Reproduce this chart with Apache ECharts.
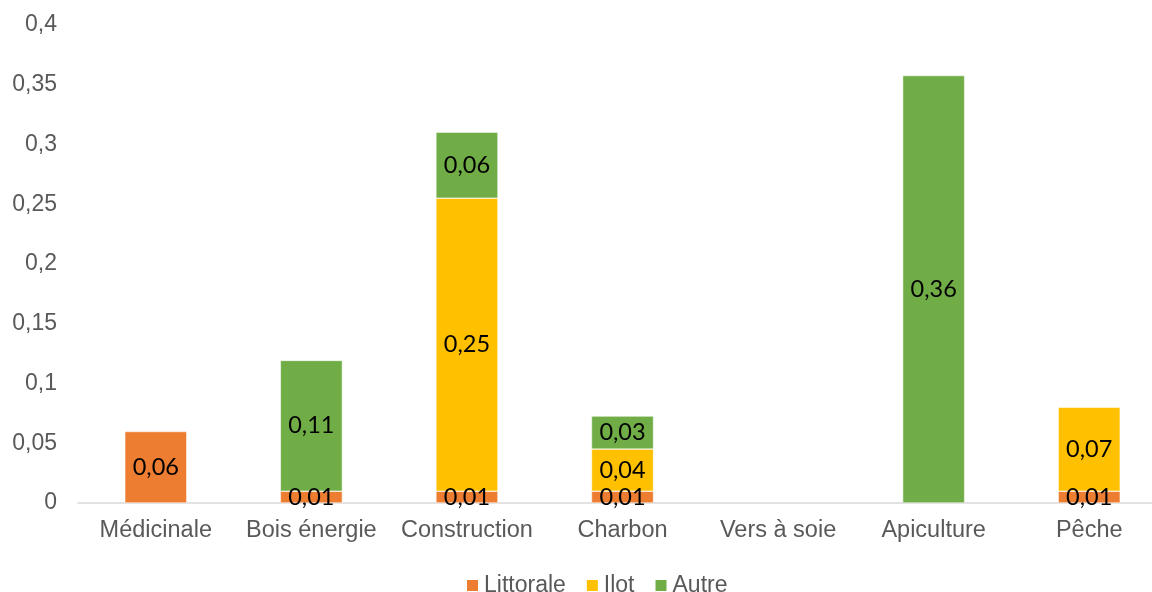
<!DOCTYPE html>
<html>
<head>
<meta charset="utf-8">
<script src="https://cdn.jsdelivr.net/npm/echarts@6/dist/echarts.min.js"></script>
<style>html,body{margin:0;padding:0;background:#fff}#c{width:1152px;height:592px}</style>
</head>
<body>
<div id="c"></div>
<script>
const categories = ['Médicinale', 'Bois énergie', 'Construction', 'Charbon', 'Vers à soie', 'Apiculture', 'Pêche'];
const littorale = [0.0598, 0.0099, 0.0099, 0.0099, null, null, 0.0099];
const ilot = [null, null, 0.2452, 0.0352, null, null, 0.0702];
const autre = [null, 0.1094, 0.0552, 0.0276, null, 0.3577, null];
const yTicks = { min: 0, max: 0.4, interval: 0.05 };

const fmt = v => String(v).replace('.', ',');
const labelStyle = {
  show: true,
  position: 'inside',
  color: '#000',
  fontFamily: 'Lato',
  fontSize: 23.5,
  formatter: p => (p.value == null ? '' : p.value.toFixed(2).replace('.', ','))
};
const mk = (name, data, color) => ({
  name, type: 'bar', stack: 'total', data, barWidth: 62,
  itemStyle: { color, borderColor: '#fff', borderWidth: 0.5 },
  label: labelStyle
});

const chart = echarts.init(document.getElementById('c'), null, { renderer: 'canvas' });
chart.setOption({
  animation: false,
  textStyle: { fontFamily: 'Liberation Sans' },
  grid: { left: 78, width: 1089, top: 25, bottom: 89, containLabel: false, outerBoundsMode: 'none' },
  legend: {
    top: 569, left: 460,
    itemWidth: 13, itemHeight: 13, itemGap: 19, icon: 'rect',
    textStyle: { color: '#595959', fontSize: 23, fontFamily: 'Liberation Sans' },
    data: ['Littorale', 'Ilot', 'Autre']
  },
  xAxis: {
    type: 'category', data: categories,
    axisLine: { lineStyle: { color: '#d9d9d9', width: 1.5 } },
    axisTick: { show: false },
    axisLabel: { color: '#595959', fontSize: 23.5, margin: 16, interval: 0, fontFamily: 'Liberation Sans' }
  },
  yAxis: {
    type: 'value', min: yTicks.min, max: yTicks.max, interval: yTicks.interval,
    splitLine: { show: false },
    axisLine: { show: false }, axisTick: { show: false },
    axisLabel: { color: '#595959', fontSize: 23, margin: 21, fontFamily: 'Liberation Sans', formatter: fmt }
  },
  series: [
    mk('Littorale', littorale, '#ED7D31'),
    mk('Ilot', ilot, '#FFC000'),
    mk('Autre', autre, '#70AD47')
  ]
});
</script>
</body>
</html>
